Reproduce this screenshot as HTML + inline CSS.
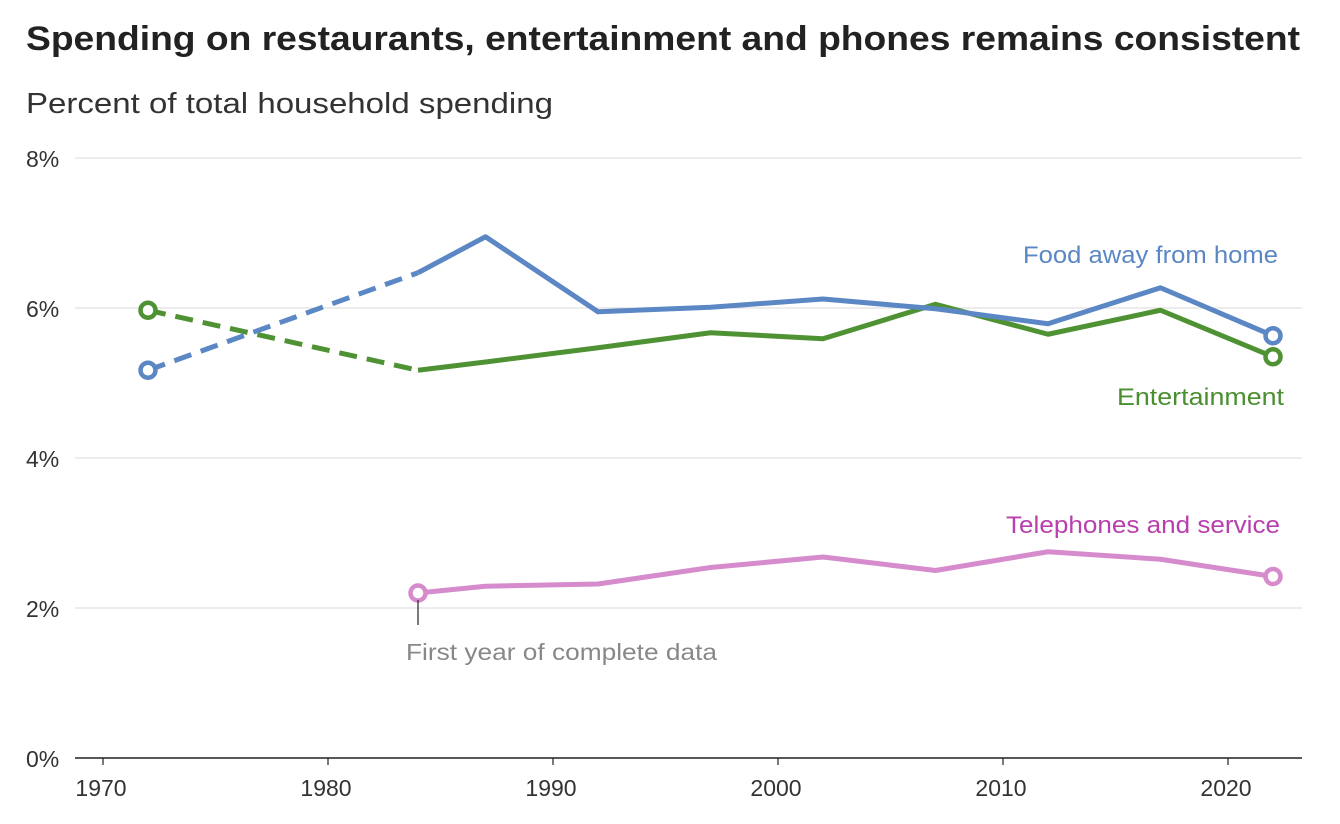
<!DOCTYPE html>
<html><head><meta charset="utf-8"><style>
body{margin:0;background:#fff;width:1340px;height:819px;overflow:hidden;font-family:"Liberation Sans",sans-serif}
</style></head><body>
<svg width="1340" height="819">
<text x="26" y="50" font-size="34" font-weight="bold" fill="#222" textLength="1274" lengthAdjust="spacingAndGlyphs">Spending on restaurants, entertainment and phones remains consistent</text>
<text x="26" y="113" font-size="29" fill="#333" textLength="527" lengthAdjust="spacingAndGlyphs">Percent of total household spending</text>
<g id="grid"></g><g id="series"></g>
<g>
<line x1="418" y1="600" x2="418" y2="625" stroke="#222" stroke-width="1.2"/>
<text x="406" y="660" font-size="23" fill="#888" textLength="311" lengthAdjust="spacingAndGlyphs">First year of complete data</text>
</g>
<text x="1023" y="263" font-size="24" fill="#5b87c5" textLength="255" lengthAdjust="spacingAndGlyphs">Food away from home</text>
<text x="1117" y="405" font-size="24" fill="#4a8f2f" textLength="167" lengthAdjust="spacingAndGlyphs">Entertainment</text>
<text x="1006" y="533" font-size="24" fill="#b83fae" textLength="274" lengthAdjust="spacingAndGlyphs">Telephones and service</text>
</svg>
<script>
const years=[1972,1984,1987,1992,1997,2002,2007,2012,2017,2022];
const food=[5.17,6.47,6.95,5.95,6.01,6.12,5.99,5.79,6.27,5.63];
const ent=[5.97,5.17,5.28,5.47,5.67,5.59,6.05,5.65,5.97,5.35];
const tel=[null,2.2,2.29,2.32,2.54,2.68,2.5,2.75,2.65,2.42];
const yTicks=[0,2,4,6,8];
const xTicks=[1970,1980,1990,2000,2010,2020];
const NS="http://www.w3.org/2000/svg";
const x=v=>103+(v-1970)*22.5;
const y=v=>758-v*75;
function mk(t,a,p){const e=document.createElementNS(NS,t);for(const k in a)e.setAttribute(k,a[k]);p.appendChild(e);return e;}
const grid=document.getElementById('grid'),ser=document.getElementById('series');
yTicks.forEach(t=>{
const l=mk('line',{x1:75,x2:1302,y1:y(t),y2:y(t),stroke:t===0?'#222':'#d8d8d8','stroke-width':t===0?1.5:1},grid);


const tx=mk('text',{x:26,y:y(t)+9,'font-size':23,fill:'#333'},grid);tx.textContent=t+'%';


});
xTicks.forEach(t=>{
mk('line',{x1:x(t),x2:x(t),y1:758,y2:765,stroke:'#222','stroke-width':1.2},grid);
const tx=mk('text',{x:x(t)-2,y:796,'font-size':23,fill:'#333','text-anchor':'middle'},grid);tx.textContent=t;


});
function draw(vals,color,name){
const pts=years.map((yr,i)=>vals[i]==null?null:[x(yr),y(vals[i])]);
let first=pts.findIndex(p=>p);
if(first===0){const d=mk('path',{d:`M${pts[0]}L${pts[1]}`,stroke:color,'stroke-width':5,fill:'none','stroke-dasharray':'18 10'},ser);

}
const s=pts.slice(1).filter(p=>p);
const l=mk('path',{d:'M'+s.join('L'),stroke:color,'stroke-width':5,fill:'none','stroke-linejoin':'round'},ser);


const ends=[pts[first],pts[pts.length-1]];
ends.forEach(p=>{const c=mk('circle',{cx:p[0],cy:p[1],r:7.5,fill:'#fff',stroke:color,'stroke-width':4.5},ser);

});
}
draw(tel,'#d68ccc','telephones');
draw(ent,'#4f9234','entertainment');
draw(food,'#5b87c5','food');
</script>
</body></html>
